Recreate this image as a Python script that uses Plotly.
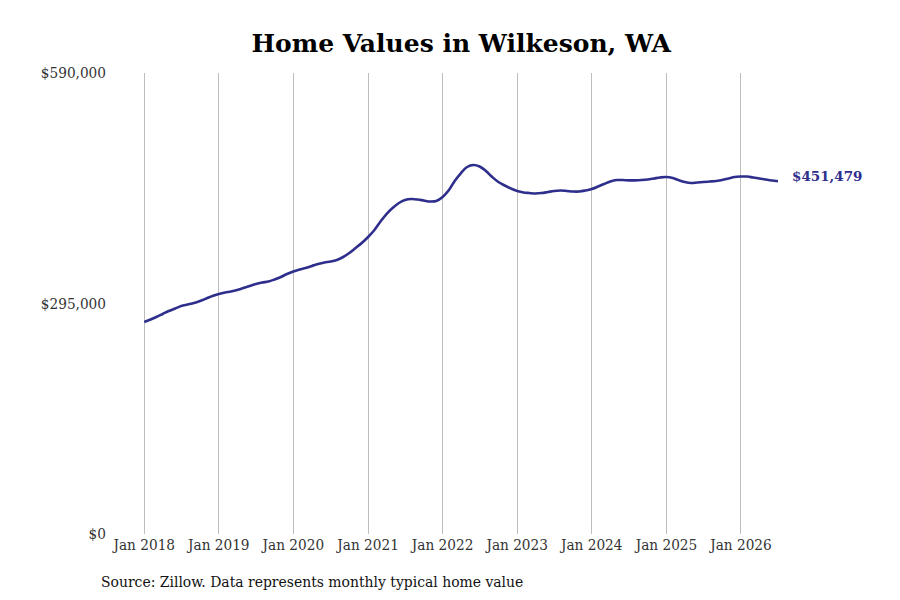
import pandas as pd
import plotly.graph_objects as go

# monthly typical home value, Jan 2018 .. Jul 2026
months = pd.date_range("2018-01-01", periods=103, freq="MS")
values = [
    271300, 274500, 277700, 281600, 285400, 288600, 291800, 293700, 295600, 298200, 301400, 304600,
    307200, 309100, 310400, 312300, 314800, 317400, 320000, 321900, 323100, 325700, 328900, 332700,
    335900, 338500, 340400, 343000, 345500, 347500, 348700, 350700, 354500, 359600, 366000, 372400,
    380100, 389100, 399300, 409500, 417200, 423600, 427500, 428700, 428100, 426800, 425500, 426200,
    431300, 440300, 451800, 462000, 469700, 472200, 470300, 464600, 456900, 450500, 446000, 442200,
    439000, 437100, 436400, 435800, 436400, 437700, 439000, 439600, 439000, 438300, 438300, 439600,
    441500, 444700, 447900, 451100, 453000, 453000, 452600, 452600, 453000, 453700, 455000, 456300,
    456900, 455600, 453000, 450500, 449200, 449900, 450500, 451100, 451800, 453000, 455000, 456900,
    457500, 457500, 456300, 455000, 453700, 452400, 451479,
]

y_ticks = [0, 295000, 590000]
y_tick_text = ["$0", "$295,000", "$590,000"]
x_ticks = pd.date_range("2018-01-01", "2026-01-01", freq="YS")
x_tick_text = [f"Jan {d.year}" for d in x_ticks]

line_color = "#2e2e8c"
serif = "DejaVu Serif"
serif_narrow = "DejaVu Serif Condensed, DejaVu Serif"

fig = go.Figure()
fig.add_trace(go.Scatter(
    x=months,
    y=values,
    mode="lines",
    line=dict(color=line_color, width=2.6, shape="spline"),
    hoverinfo="skip",
    showlegend=False,
))

# label the latest value just right of the line end
fig.add_annotation(
    x=months[-1], y=values[-1],
    text=f"<b>${values[-1]:,}</b>",
    showarrow=False,
    xanchor="left", xshift=12, yshift=5,
    font=dict(family=serif, size=13.5, color=line_color),
)

fig.add_annotation(
    x=0, y=0, xref="paper", yref="paper",
    xanchor="left", yanchor="middle", yshift=-48, xshift=-13,
    text="Source: Zillow. Data represents monthly typical home value",
    showarrow=False,
    font=dict(family=serif_narrow, size=15.5, color="#111111"),
)

# page body has an 8px margin, so the figure is 8px smaller each way
fig.update_layout(
    title=dict(
        text="<b>Home Values in Wilkeson, WA</b>",
        x=0.508, xanchor="center", y=0.94, yanchor="middle",
        font=dict(family=serif, size=25, color="#000000"),
    ),
    width=892,
    height=592,
    margin=dict(l=104, r=110, t=65, b=66),
    plot_bgcolor="white",
    paper_bgcolor="white",
    font=dict(family=serif_narrow, size=15.2, color="#333333"),
)

fig.update_xaxes(
    range=["2017-07-27", "2026-08-29"],
    tickvals=x_ticks,
    ticktext=x_tick_text,
    showgrid=True,
    gridcolor="#bdbdbd",
    gridwidth=1,
    zeroline=False,
    showline=False,
    ticks="",
    ticklabelstandoff=0,
)
fig.update_yaxes(
    range=[0, 590000],
    tickvals=y_ticks,
    ticktext=y_tick_text,
    showgrid=False,
    zeroline=False,
    showline=False,
    ticks="",
    ticklabelstandoff=5,
)

fig.write_html("out.html")
